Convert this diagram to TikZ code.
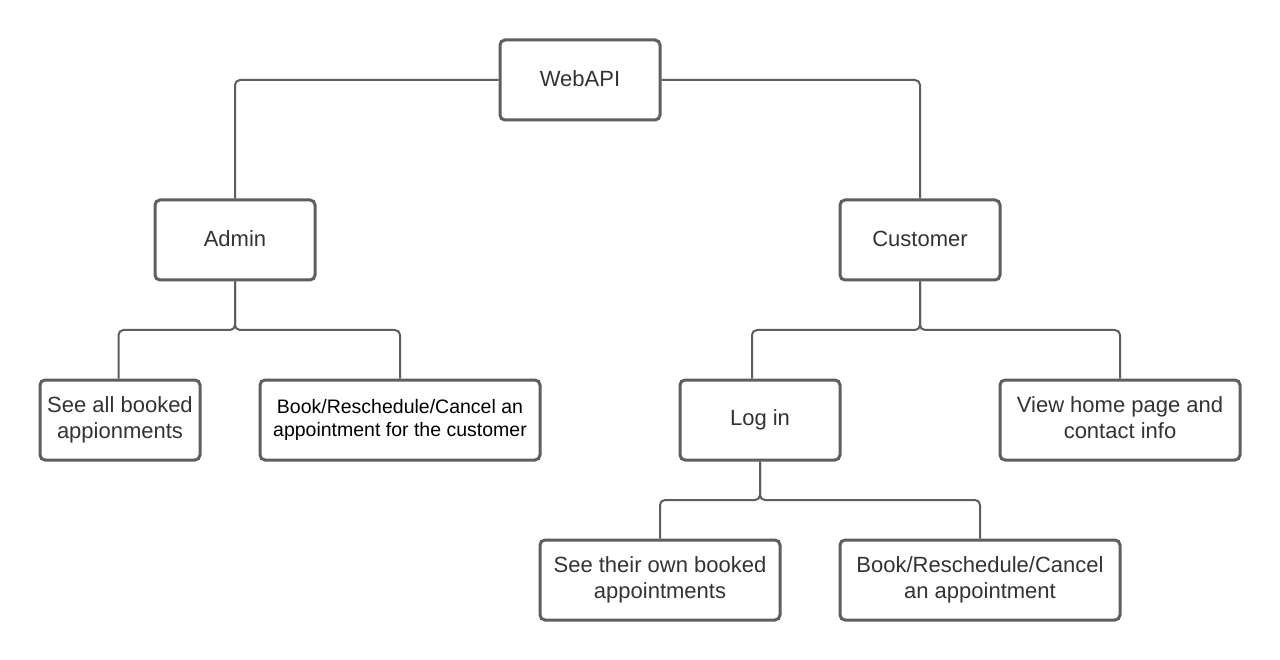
\documentclass[tikz,border=0pt]{standalone}
\usepackage{fontspec}
\setmainfont{Liberation Sans}
\definecolor{edge}{HTML}{5E5E5E}
\definecolor{txt}{HTML}{333333}
\begin{document}
\begin{tikzpicture}[x=1pt,y=-1pt,
  box/.style={draw=edge, line width=3pt, rounded corners=5pt, fill=white,
    minimum width=160pt, minimum height=80pt, inner sep=2pt, align=center,
    text=txt, font=\fontsize{22}{26}\selectfont},
  smalltxt/.style={text=black, font=\fontsize{19.5}{23}\selectfont},
  conn/.style={draw=edge, line width=2pt, rounded corners=5pt}]
\useasboundingbox[fill=white] (0,0) rectangle (1280,660);

\node[box] (web) at (580,80) {\raisebox{3pt}{WebAPI}};
\node[box] (admin) at (235,240) {\raisebox{3pt}{Admin}};
\node[box] (cust) at (920,240) {\raisebox{3pt}{Customer}};
\node[box] (seeall) at (120,420) {See all booked\\appionments};
\node[box, minimum width=280pt, smalltxt] (bookadm) at (400,420) {Book/Reschedule/Cancel an\\appointment for the customer};
\node[box] (login) at (760,420) {\raisebox{3pt}{Log in}};
\node[box, minimum width=240pt] (view) at (1120,420) {\raisebox{3pt}{\begin{tabular}{@{}c@{}}View home page and\\[0pt]contact info\end{tabular}}};
\node[box, minimum width=240pt] (seeown) at (660,580) {See their own booked\\appointments};
\node[box, minimum width=280pt] (bookcust) at (980,580) {Book/Reschedule/Cancel\\an appointment};

\draw[conn] (web.west) -| (admin.north);
\draw[conn] (web.east) -| (cust.north);

\draw[conn] (admin.south) -- (admin.south |- 0,330) -| ([xshift=-1.5pt]seeall.north);
\draw[conn] (admin.south) -- (admin.south |- 0,330) -| (bookadm.north);

\draw[conn] (cust.south) -- (cust.south |- 0,330) -| ([xshift=-8pt]login.north);
\draw[conn] (cust.south) -- (cust.south |- 0,330) -| (view.north);

\draw[conn] (login.south) -- (login.south |- 0,500) -| (seeown.north);
\draw[conn] (login.south) -- (login.south |- 0,500) -| (bookcust.north);
\end{tikzpicture}
\end{document}
